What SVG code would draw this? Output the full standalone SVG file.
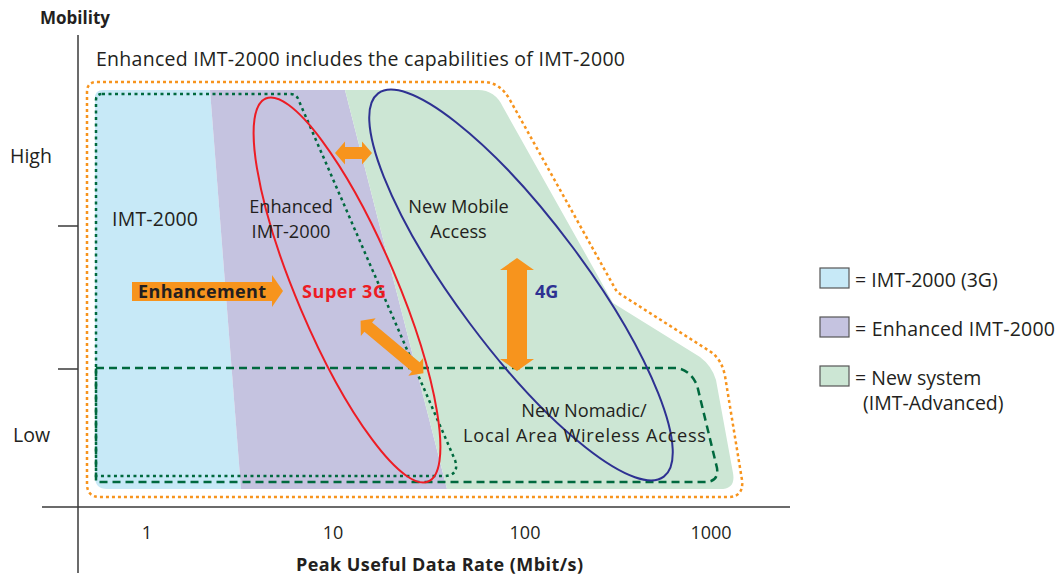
<svg xmlns="http://www.w3.org/2000/svg" width="1058" height="575" viewBox="0 0 1058 575">
<style>
.t{font-family:"Open Sans","Noto Sans","Liberation Sans",sans-serif;fill:#231f20;font-size:19.5px}
.n{font-size:18px}
.m{font-size:18.2px}
.b{font-weight:bold}
.ax{stroke:#3a3a3a;stroke-width:1.5;fill:none}
.arr{fill:#f7941d}
</style>
<rect width="1058" height="575" fill="#fff"/>
<g id="regions">
<path d="M103,90 L210,90 L241,489 L107,489 Q95,489 95,477 L95,98 Q95,90 103,90 Z" fill="#c7e9f7"/>
<path d="M210,90 L345,90 L447,489 L241,489 Z" fill="#c5c3e0"/>
<path d="M345,90 L478,90 Q495,90 503,107 L613,303 L700,357 Q712,366 716,380 L733,473 Q736,489 720,489 L447,489 Z" fill="#cce6d4"/>
</g>
<g id="outlines" fill="none">
<path d="M97,82 L483,82 Q500,82 510,100 L617,292 L711,352 Q722,360 725,376 L742,480 Q744,497 728,497 L100,497 Q87,497 87,484 L87,92 Q87,82 97,82 Z" stroke="#f7941d" stroke-width="2.5" stroke-dasharray="3 3"/>
<path d="M102,94 L290,94 Q297,94 299,101 L455,460 Q460,476 443,476 L96,476 L96,100 Q96,94 102,94 Z" stroke="#00693e" stroke-width="2.5" stroke-dasharray="3 3.5"/>
<path d="M96,368 L677,368 Q690,370 697,385 L717,468 Q719,482 705,482 L96,482 Z" stroke="#00693e" stroke-width="2.5" stroke-dasharray="8 5"/>
</g>
<g id="axes">
<line class="ax" x1="78" y1="35" x2="78" y2="573"/>
<line class="ax" x1="42" y1="507" x2="790" y2="507"/>
<line class="ax" x1="58" y1="226" x2="78" y2="226"/>
<line class="ax" x1="58" y1="369" x2="78" y2="369"/>
</g>
<g id="ellipses" fill="none">
<ellipse id="super3g" cx="347" cy="290" rx="208" ry="50" transform="rotate(67 347 290)" stroke="#ed1c24" stroke-width="2"/>
<ellipse id="mobile4g" cx="521" cy="285" rx="239" ry="64" transform="rotate(53.3 521 285)" stroke="#2e3192" stroke-width="2"/>
</g>
<g id="connectors">
<polygon class="arr" points="132,282 272,282 272,275 283,291 272,307 272,301 132,301"/>
<polygon class="arr" points="335,153 345,141.5 345,147 362,147 362,141.5 372,153 362,164.5 362,159 345,159 345,164.5"/>
<polygon class="arr" points="517,258 534,270 527,270 527,359 534,359 517,371 500,359 507,359 507,270 500,270"/>
<polygon class="arr" transform="translate(392,347) rotate(40)" points="-41,0 -31,-11.5 -31,-6 31,-6 31,-11.5 41,0 31,11.5 31,6 -31,6 -31,11.5"/>
</g>
<g id="labels">
<text class="t b" x="40" y="24" style="font-size:17px">Mobility</text>
<text class="t" x="96" y="66" textLength="529">Enhanced IMT-2000 includes the capabilities of IMT-2000</text>
<text class="t" x="10" y="163">High</text>
<text class="t" x="13" y="442">Low</text>
<text class="t n" x="147" y="539" text-anchor="middle">1</text>
<text class="t n" x="333" y="539" text-anchor="middle">10</text>
<text class="t n" x="525" y="539" text-anchor="middle">100</text>
<text class="t n" x="711" y="539" text-anchor="middle">1000</text>
<text class="t b" x="296" y="571" style="font-size:18px" textLength="287">Peak Useful Data Rate (Mbit/s)</text>
</g>
<g id="node-imt2000"><text class="t" x="112" y="226" textLength="86">IMT-2000</text></g>
<g id="node-enhanced"><text class="t m" text-anchor="middle"><tspan x="291" y="213">Enhanced</tspan><tspan x="291" y="238">IMT-2000</tspan></text></g>
<g id="node-newmobile"><text class="t m" text-anchor="middle"><tspan x="458.5" y="213">New Mobile</tspan><tspan x="458.5" y="238">Access</tspan></text></g>
<g id="node-nomadic"><text class="t m" text-anchor="middle"><tspan x="584" y="417">New Nomadic/</tspan><tspan x="584.5" y="442" textLength="243">Local Area Wireless Access</tspan></text></g>
<g id="node-enhancement"><text class="t b" x="138" y="298" style="font-size:18px" textLength="128">Enhancement</text></g>
<g id="node-super3g"><text class="t b" x="302" y="298" style="fill:#ed1c24;font-size:18px" textLength="84">Super 3G</text></g>
<g id="node-4g"><text class="t b" x="535" y="298" style="fill:#2e3192;font-size:18px">4G</text></g>
<g id="legend">
<rect x="820" y="268" width="29" height="20" fill="#c7e9f7" stroke="#555" stroke-width="1.2"/>
<rect x="820" y="317" width="29" height="20" fill="#c5c3e0" stroke="#555" stroke-width="1.2"/>
<rect x="820" y="366" width="29" height="20" fill="#cce6d4" stroke="#555" stroke-width="1.2"/>
<text class="t" x="855" y="287">= IMT-2000 (3G)</text>
<text class="t" x="855" y="336" textLength="200">= Enhanced IMT-2000</text>
<text class="t"><tspan x="855" y="385">= New system</tspan><tspan x="863" y="410">(IMT-Advanced)</tspan></text>
</g>
</svg>
